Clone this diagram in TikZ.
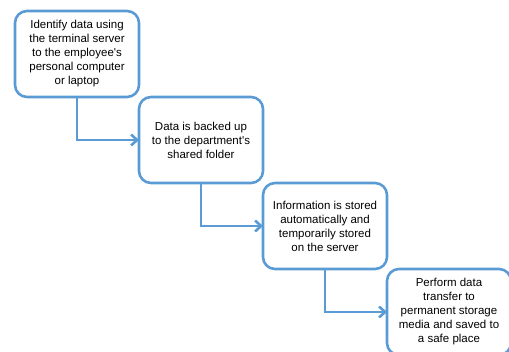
\documentclass[tikz,border=0pt]{standalone}
\usepackage{fontspec}
\setmainfont{Liberation Sans}
\usetikzlibrary{positioning, arrows.meta}
\definecolor{boxblue}{RGB}{91,155,213}
\tikzset{stepbox/.style = {
    rectangle,
    rounded corners=12pt,
    minimum width=124pt,
    minimum height=86pt,
    align=center,
    font=\fontsize{11.5pt}{14pt}\selectfont,
    line width=2.6pt,
    outer sep=0pt,
    draw=boxblue
}}
\tikzset{arrow/.style = {line width=2.6pt, draw=boxblue, -{Straight Barb[length=6pt,width=11pt]}}}

\begin{document}
\begin{tikzpicture}[x=1pt, y=1pt]

\clip (0,0) rectangle (509,351);
\useasboundingbox (0,0) rectangle (509,351);

\node (identify) [stepbox] at (77,297)
{Identify data using\\the terminal server\\to the employee\textquotesingle s\\personal computer\\or laptop};

\node (backup) [stepbox, below right=0pt and 0pt of identify]
{Data is backed up\\to the department\textquotesingle s\\shared folder};

\node (store) [stepbox, below right=0pt and 0pt of backup]
{Information is stored\\automatically and\\temporarily stored\\on the server};

\node (transfer) [stepbox, below right=0pt and 0pt of store]
{Perform data\\transfer to\\permanent storage\\media and saved to\\a safe place};

\draw [arrow] (identify.south) |- (backup.west);
\draw [arrow] (backup.south) |- (store.west);
\draw [arrow] (store.south) |- (transfer.west);

\end{tikzpicture}
\end{document}
